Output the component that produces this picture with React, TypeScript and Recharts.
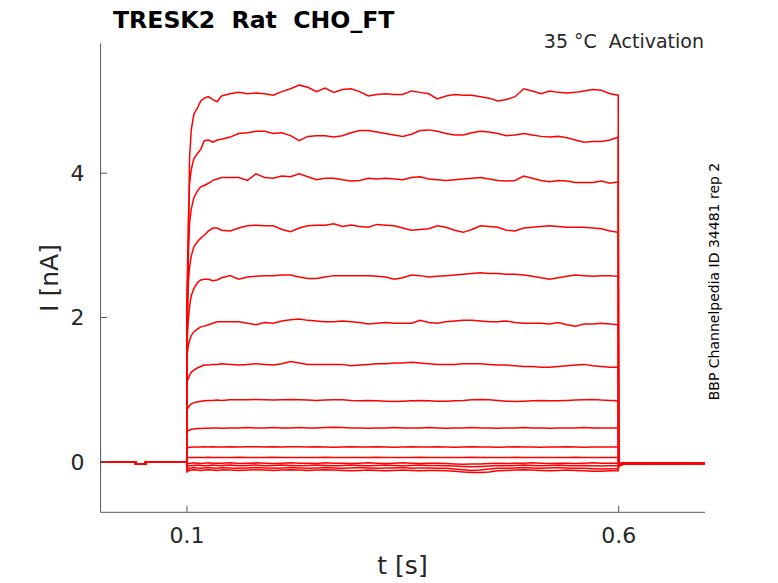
import React from 'react';
import { LineChart, Line, XAxis, YAxis } from 'recharts';

// ---------- time grids (s) ----------
const PRE_T = [0, 0.0405, 0.0406, 0.052, 0.0521, 0.0999];
const PRE_I = [0, 0, -0.035, -0.035, 0, 0];
const ONSET_T = [0.1, 0.1015, 0.103, 0.105, 0.108, 0.112, 0.116, 0.12, 0.125, 0.13, 0.135];
const STEADY_T = [
  0.14, 0.15, 0.16, 0.17, 0.18, 0.19, 0.2, 0.21, 0.22, 0.23,
  0.24, 0.25, 0.26, 0.27, 0.28, 0.29, 0.3, 0.31, 0.32, 0.33,
  0.34, 0.35, 0.36, 0.37, 0.38, 0.39, 0.4, 0.41, 0.42, 0.43,
  0.44, 0.45, 0.46, 0.47, 0.48, 0.49, 0.5, 0.51, 0.52, 0.53,
  0.54, 0.55, 0.56, 0.57, 0.58, 0.59,
];
const END_T = [0.5995];
const POST_T = [0.6, 0.6005, 0.603, 0.607, 0.612, 0.63, 0.66, 0.7];

const X_TICKS = [0.1, 0.6];
const Y_TICKS = [0, 2, 4];

// ---------- current values (nA), one row per sweep ----------
const ONSET = [
  [1.3, 2.65, 4.2, 4.6, 4.82, 4.9, 5.0, 5.04, 5.06, 5.02, 4.99],
  [2.2, 3.3, 3.85, 4.05, 4.2, 4.27, 4.33, 4.45, 4.46, 4.43, 4.46],
  [2.2, 2.9, 3.3, 3.5, 3.66, 3.75, 3.81, 3.83, 3.86, 3.9, 3.92],
  [2.0, 2.45, 2.7, 2.85, 2.98, 3.05, 3.1, 3.14, 3.2, 3.24, 3.24],
  [1.7, 1.95, 2.15, 2.3, 2.4, 2.48, 2.52, 2.53, 2.53, 2.51, 2.52],
  [1.45, 1.6, 1.68, 1.75, 1.8, 1.84, 1.87, 1.88, 1.9, 1.92, 1.94],
  [1.1, 1.15, 1.2, 1.24, 1.27, 1.3, 1.32, 1.34, 1.34, 1.35, 1.35],
  [0.72, 0.75, 0.78, 0.8, 0.82, 0.83, 0.84, 0.845, 0.85, 0.85, 0.855],
  [0.42, 0.43, 0.44, 0.45, 0.455, 0.46, 0.46, 0.465, 0.465, 0.47, 0.47],
  [0.19, 0.195, 0.2, 0.2, 0.205, 0.205, 0.205, 0.21, 0.205, 0.21, 0.205],
  [0.055, 0.058, 0.06, 0.06, 0.06, 0.058, 0.06, 0.06, 0.062, 0.06, 0.06],
  [-0.03, -0.025, -0.02, -0.02, -0.015, -0.02, -0.025, -0.02, -0.015, -0.02, -0.02],
  [-0.07, -0.06, -0.055, -0.05, -0.05, -0.045, -0.05, -0.055, -0.05, -0.045, -0.05],
  [-0.11, -0.1, -0.09, -0.085, -0.08, -0.085, -0.09, -0.085, -0.08, -0.085, -0.09],
  [-0.14, -0.13, -0.12, -0.115, -0.11, -0.115, -0.12, -0.115, -0.11, -0.115, -0.12],
];

const STEADY = [
  [5.07, 5.10, 5.12, 5.10, 5.11, 5.10, 5.08, 5.13, 5.17, 5.22,
   5.19, 5.13, 5.18, 5.12, 5.16, 5.17, 5.13, 5.07, 5.09, 5.10,
   5.09, 5.09, 5.14, 5.12, 5.10, 5.03, 5.07, 5.09, 5.08, 5.08,
   5.06, 5.04, 5.00, 5.02, 5.06, 5.17, 5.14, 5.10, 5.14, 5.12,
   5.11, 5.12, 5.14, 5.16, 5.15, 5.10],
  [4.47, 4.50, 4.55, 4.56, 4.58, 4.58, 4.55, 4.56, 4.52, 4.45,
   4.51, 4.52, 4.52, 4.50, 4.52, 4.56, 4.59, 4.59, 4.57, 4.55,
   4.53, 4.51, 4.54, 4.59, 4.60, 4.58, 4.55, 4.53, 4.53, 4.56,
   4.58, 4.57, 4.55, 4.52, 4.53, 4.55, 4.53, 4.51, 4.50, 4.51,
   4.49, 4.46, 4.43, 4.44, 4.44, 4.46],
  [3.94, 3.94, 3.94, 3.90, 3.99, 3.94, 3.93, 3.96, 3.95, 3.99,
   3.95, 3.91, 3.93, 3.93, 3.91, 3.89, 3.90, 3.93, 3.92, 3.93,
   3.92, 3.91, 3.94, 3.95, 3.92, 3.91, 3.90, 3.91, 3.92, 3.93,
   3.94, 3.92, 3.90, 3.89, 3.90, 3.96, 3.93, 3.90, 3.88, 3.90,
   3.89, 3.87, 3.87, 3.87, 3.89, 3.86],
  [3.21, 3.20, 3.24, 3.27, 3.28, 3.27, 3.27, 3.22, 3.19, 3.24,
   3.27, 3.28, 3.28, 3.30, 3.26, 3.28, 3.26, 3.25, 3.29, 3.28,
   3.27, 3.24, 3.21, 3.22, 3.23, 3.27, 3.25, 3.21, 3.18, 3.22,
   3.27, 3.26, 3.25, 3.21, 3.20, 3.24, 3.25, 3.26, 3.27, 3.26,
   3.25, 3.25, 3.25, 3.24, 3.23, 3.20],
  [2.55, 2.58, 2.53, 2.56, 2.57, 2.58, 2.58, 2.59, 2.59, 2.56,
   2.54, 2.54, 2.56, 2.58, 2.58, 2.58, 2.58, 2.58, 2.57, 2.56,
   2.53, 2.55, 2.59, 2.58, 2.56, 2.57, 2.58, 2.59, 2.60, 2.61,
   2.62, 2.61, 2.61, 2.60, 2.60, 2.59, 2.57, 2.55, 2.53, 2.55,
   2.57, 2.59, 2.58, 2.57, 2.58, 2.58],
  [1.94, 1.94, 1.94, 1.92, 1.90, 1.93, 1.92, 1.95, 1.97, 1.98,
   1.96, 1.95, 1.94, 1.94, 1.95, 1.94, 1.93, 1.91, 1.92, 1.93,
   1.92, 1.92, 1.92, 1.96, 1.93, 1.92, 1.94, 1.95, 1.96, 1.96,
   1.95, 1.94, 1.94, 1.95, 1.93, 1.92, 1.92, 1.92, 1.91, 1.93,
   1.90, 1.88, 1.91, 1.91, 1.92, 1.91],
  [1.36, 1.35, 1.34, 1.35, 1.36, 1.35, 1.34, 1.36, 1.39, 1.37,
   1.35, 1.35, 1.35, 1.35, 1.35, 1.33, 1.34, 1.35, 1.36, 1.36,
   1.37, 1.37, 1.38, 1.37, 1.36, 1.35, 1.35, 1.35, 1.36, 1.36,
   1.36, 1.35, 1.34, 1.34, 1.33, 1.32, 1.32, 1.31, 1.31, 1.32,
   1.33, 1.34, 1.35, 1.33, 1.32, 1.31],
  [0.85, 0.86, 0.86, 0.86, 0.865, 0.86, 0.855, 0.86, 0.865, 0.86,
   0.855, 0.85, 0.855, 0.86, 0.86, 0.85, 0.845, 0.85, 0.845, 0.84,
   0.835, 0.84, 0.845, 0.85, 0.845, 0.84, 0.84, 0.845, 0.85, 0.86,
   0.865, 0.86, 0.85, 0.84, 0.835, 0.84, 0.845, 0.85, 0.845, 0.845,
   0.85, 0.855, 0.86, 0.865, 0.855, 0.85],
  [0.465, 0.47, 0.47, 0.475, 0.47, 0.47, 0.475, 0.47, 0.47, 0.475,
   0.47, 0.47, 0.475, 0.48, 0.475, 0.47, 0.47, 0.465, 0.47, 0.47,
   0.475, 0.47, 0.47, 0.47, 0.475, 0.47, 0.465, 0.47, 0.47, 0.475,
   0.47, 0.47, 0.465, 0.47, 0.47, 0.475, 0.47, 0.47, 0.465, 0.47,
   0.47, 0.47, 0.475, 0.47, 0.47, 0.47],
  [0.205, 0.21, 0.205, 0.21, 0.21, 0.205, 0.21, 0.205, 0.21, 0.21,
   0.205, 0.21, 0.205, 0.2, 0.205, 0.21, 0.205, 0.205, 0.21, 0.205,
   0.2, 0.205, 0.21, 0.205, 0.205, 0.21, 0.205, 0.2, 0.205, 0.21,
   0.205, 0.205, 0.2, 0.205, 0.21, 0.205, 0.205, 0.2, 0.205, 0.205,
   0.21, 0.205, 0.2, 0.205, 0.205, 0.205],
  [0.06, 0.058, 0.062, 0.06, 0.058, 0.06, 0.062, 0.058, 0.06, 0.06,
   0.058, 0.06, 0.062, 0.06, 0.058, 0.06, 0.058, 0.06, 0.062, 0.06,
   0.058, 0.06, 0.06, 0.062, 0.058, 0.06, 0.06, 0.058, 0.06, 0.062,
   0.06, 0.058, 0.06, 0.06, 0.062, 0.058, 0.06, 0.06, 0.058, 0.06,
   0.06, 0.062, 0.058, 0.06, 0.06, 0.058],
  [-0.02, -0.015, -0.025, -0.02, -0.015, -0.02, -0.025, -0.02, -0.015, -0.02,
   -0.02, -0.025, -0.015, -0.02, -0.02, -0.025, -0.02, -0.015, -0.02, -0.025,
   -0.02, -0.015, -0.02, -0.025, -0.02, -0.02, -0.025, -0.03, -0.035, -0.03,
   -0.03, -0.025, -0.02, -0.025, -0.02, -0.02, -0.015, -0.02, -0.025, -0.02,
   -0.02, -0.025, -0.02, -0.015, -0.02, -0.02],
  [-0.05, -0.045, -0.055, -0.05, -0.045, -0.055, -0.05, -0.045, -0.05, -0.055,
   -0.05, -0.045, -0.05, -0.055, -0.05, -0.045, -0.05, -0.055, -0.05, -0.045,
   -0.05, -0.055, -0.05, -0.045, -0.05, -0.05, -0.055, -0.06, -0.065, -0.07,
   -0.065, -0.06, -0.055, -0.055, -0.05, -0.045, -0.05, -0.055, -0.05, -0.045,
   -0.05, -0.055, -0.05, -0.055, -0.06, -0.055],
  [-0.08, -0.085, -0.09, -0.085, -0.08, -0.085, -0.09, -0.085, -0.08, -0.085,
   -0.09, -0.085, -0.08, -0.085, -0.09, -0.085, -0.08, -0.085, -0.09, -0.085,
   -0.085, -0.08, -0.09, -0.085, -0.085, -0.09, -0.09, -0.1, -0.11, -0.12,
   -0.115, -0.1, -0.09, -0.09, -0.085, -0.08, -0.085, -0.09, -0.085, -0.08,
   -0.085, -0.09, -0.09, -0.095, -0.1, -0.095],
  [-0.11, -0.115, -0.12, -0.115, -0.11, -0.115, -0.12, -0.115, -0.11, -0.115,
   -0.12, -0.115, -0.11, -0.115, -0.12, -0.125, -0.12, -0.115, -0.12, -0.125,
   -0.12, -0.115, -0.12, -0.125, -0.12, -0.12, -0.125, -0.13, -0.14, -0.15,
   -0.15, -0.14, -0.125, -0.12, -0.115, -0.11, -0.115, -0.12, -0.125, -0.12,
   -0.115, -0.12, -0.125, -0.13, -0.13, -0.125],
];

const END_I = [5.08, 4.5, 3.88, 3.18, 2.57, 1.9, 1.31, 0.845, 0.47, 0.205, 0.058, -0.02, -0.055, -0.095, -0.125];

const POST = [
  [-0.07, -0.06, -0.045, -0.03, -0.025, -0.02, -0.015, -0.02],
  [-0.065, -0.055, -0.04, -0.03, -0.02, -0.02, -0.02, -0.015],
  [-0.06, -0.05, -0.04, -0.025, -0.02, -0.025, -0.02, -0.02],
  [-0.06, -0.05, -0.035, -0.025, -0.02, -0.02, -0.025, -0.02],
  [-0.055, -0.045, -0.035, -0.025, -0.02, -0.015, -0.02, -0.02],
  [-0.05, -0.04, -0.03, -0.02, -0.015, -0.02, -0.02, -0.025],
  [-0.05, -0.04, -0.03, -0.02, -0.02, -0.015, -0.02, -0.02],
  [-0.045, -0.035, -0.025, -0.02, -0.015, -0.02, -0.015, -0.02],
  [-0.04, -0.03, -0.025, -0.02, -0.02, -0.015, -0.02, -0.015],
  [-0.035, -0.03, -0.02, -0.015, -0.02, -0.02, -0.015, -0.02],
  [-0.03, -0.025, -0.02, -0.015, -0.015, -0.02, -0.02, -0.02],
  [-0.03, -0.025, -0.02, -0.02, -0.02, -0.025, -0.02, -0.025],
  [-0.04, -0.03, -0.025, -0.02, -0.025, -0.025, -0.03, -0.025],
  [-0.05, -0.04, -0.03, -0.025, -0.03, -0.03, -0.025, -0.03],
  [-0.06, -0.045, -0.035, -0.03, -0.03, -0.035, -0.03, -0.03],
];

// ---------- build table ----------
const TIMES = [...PRE_T, ...ONSET_T, ...STEADY_T, ...END_T, ...POST_T];
const SWEEPS = ONSET.map((on, i) => [...PRE_I, ...on, ...STEADY[i], END_I[i], ...POST[i]]);
const ROWS = TIMES.map((t, k) => {
  const row: Record<string, number> = { t };
  SWEEPS.forEach((vals, i) => {
    row['s' + i] = vals[k];
  });
  return row;
});

const FONT = 'DejaVu Sans';
const TEXT = '#262626';
const AXIS = '#555555';

const XTick = (props: any) => {
  const { x, y, payload } = props;
  return (
    <g>
      <line x1={x} x2={x} y1={y} y2={y - 6.5} stroke={AXIS} strokeWidth={1} />
      <text x={x} y={y + 30.7} textAnchor="middle" fontSize={22} fontFamily={FONT} fill={TEXT}>
        {String(payload.value)}
      </text>
    </g>
  );
};

const YTick = (props: any) => {
  const { x, y, payload } = props;
  return (
    <g>
      <line x1={x} x2={x + 6.5} y1={y} y2={y} stroke={AXIS} strokeWidth={1} />
      <text x={x - 16} y={y + 8} textAnchor="end" fontSize={22} fontFamily={FONT} fill={TEXT}>
        {String(payload.value)}
      </text>
    </g>
  );
};

const W = 762;
const H = 567;
const OUTER_H = 575;
// overlay svg starts at the very top-left of the page (shifted up by the 8px body margin)
const OV = 8;

export default function App() {
  return (
    <div style={{ position: 'relative', width: W, height: OUTER_H }}>
      <LineChart
        width={W}
        height={H}
        data={ROWS}
        margin={{ top: 35.3, right: 65, bottom: 32.7, left: 32.6 }}
      >
        <XAxis
          dataKey="t"
          type="number"
          domain={[0, 0.7]}
          ticks={X_TICKS}
          allowDataOverflow
          height={30}
          tickSize={0}
          tickMargin={0}
          tickLine={false}
          axisLine={{ stroke: AXIS, strokeWidth: 1 }}
          tick={XTick}
        />
        <YAxis
          type="number"
          domain={[-0.7, 5.8]}
          ticks={Y_TICKS}
          allowDataOverflow
          width={60}
          tickSize={0}
          tickMargin={0}
          tickLine={false}
          axisLine={{ stroke: AXIS, strokeWidth: 1 }}
          tick={YTick}
        />
        {SWEEPS.map((_, i) => (
          <Line
            key={i}
            dataKey={'s' + i}
            type="linear"
            stroke="#ff0000"
            strokeWidth={1.5}
            dot={false}
            activeDot={false}
            isAnimationActive={false}
          />
        ))}
      </LineChart>
      <svg
        width={W}
        height={OUTER_H + OV}
        style={{ position: 'absolute', left: 0, top: -OV, pointerEvents: 'none' }}
      >
        <text x={105} y={19.5 + OV} fontSize={23.6} fontWeight="bold" fontFamily={FONT} fill="#000" style={{ whiteSpace: 'pre' }}>
          {'TRESK2  Rat  CHO_FT'}
        </text>
        <text x={696} y={39.5 + OV} fontSize={19} textAnchor="end" fontFamily={FONT} fill={TEXT} style={{ whiteSpace: 'pre' }}>
          {'35 °C  Activation'}
        </text>
        <text
          x={710.5}
          y={273.5 + OV}
          fontSize={14}
          textAnchor="middle"
          fontFamily={FONT}
          fill="#000"
          transform={`rotate(-90 710.5 ${273.5 + OV})`}
        >
          BBP Channelpedia ID 34481 rep 2
        </text>
        <text
          x={50}
          y={270 + OV}
          fontSize={25}
          textAnchor="middle"
          fontFamily={FONT}
          fill={TEXT}
          transform={`rotate(-90 50 ${270 + OV})`}
        >
          I [nA]
        </text>
        <text x={394.5} y={566 + OV} fontSize={25} textAnchor="middle" fontFamily={FONT} fill={TEXT}>
          t [s]
        </text>
      </svg>
    </div>
  );
}
